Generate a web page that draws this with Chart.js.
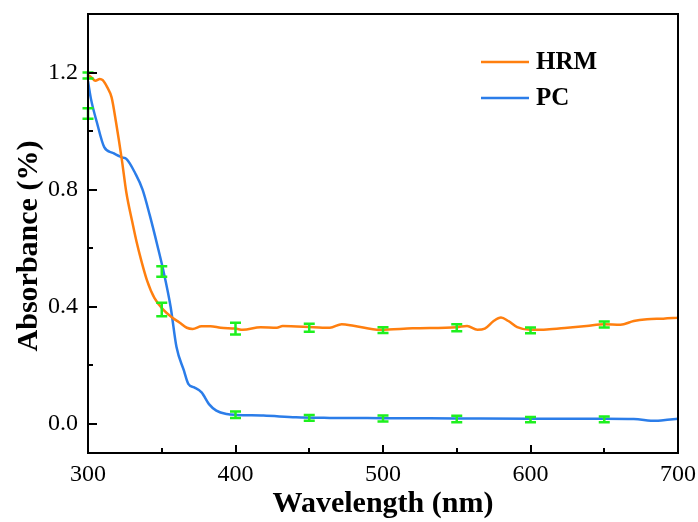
<!DOCTYPE html>
<html>
<head>
<meta charset="utf-8">
<script src="https://cdn.jsdelivr.net/npm/chart.js@4/dist/chart.umd.min.js"></script>
<style>
  html, body { margin: 0; padding: 0; background: #fff; }
  #wrap { width: 698px; height: 522px; }
</style>
</head>
<body>
<div id="wrap"><canvas id="absChart"></canvas></div>
<script>
// HRM spectrum
const hrmWl  = [300, 302, 305, 308, 310, 313, 316, 319, 323, 326, 330, 333, 336, 340, 345, 351, 357, 362, 367, 371, 377, 383, 390, 400, 405, 417, 428, 432, 453, 464, 472, 480, 498, 520, 550, 557, 564, 569, 575, 580, 585, 591, 600, 611, 625, 638, 650, 661, 670, 679, 690, 700];
const hrmAbs = [1.19, 1.185, 1.172, 1.178, 1.174, 1.15, 1.115, 1.03, 0.90, 0.79, 0.69, 0.62, 0.56, 0.49, 0.43, 0.39, 0.363, 0.346, 0.328, 0.324, 0.333, 0.333, 0.328, 0.325, 0.321, 0.33, 0.328, 0.334, 0.33, 0.328, 0.34, 0.335, 0.321, 0.326, 0.33, 0.334, 0.321, 0.325, 0.351, 0.363, 0.351, 0.33, 0.321, 0.322, 0.328, 0.334, 0.34, 0.338, 0.351, 0.357, 0.359, 0.362];

// PC spectrum
const pcWl  = [300, 302, 306, 311, 317, 323, 326, 332, 337, 342, 347, 351, 356, 360, 365, 368, 372, 377, 382, 387, 394, 401, 419, 441, 464, 500, 550, 600, 650, 670, 685, 690, 700];
const pcAbs = [1.17, 1.11, 1.03, 0.945, 0.925, 0.91, 0.905, 0.856, 0.80, 0.71, 0.61, 0.525, 0.40, 0.262, 0.182, 0.136, 0.124, 0.107, 0.067, 0.045, 0.033, 0.03, 0.028, 0.022, 0.02, 0.019, 0.018, 0.017, 0.017, 0.016, 0.01, 0.012, 0.017];

// error bars (mean ± sd)
const errWl     = [300, 350, 400, 450, 500, 550, 600, 650];
const hrmErrMean = [1.19, 0.39, 0.325, 0.328, 0.32, 0.328, 0.319, 0.339];
const hrmErrSd   = [0.01, 0.023, 0.02, 0.014, 0.01, 0.012, 0.01, 0.01];
const pcErrMean  = [1.06, 0.52, 0.031, 0.02, 0.018, 0.016, 0.014, 0.015];
const pcErrSd    = [0.018, 0.018, 0.011, 0.01, 0.01, 0.011, 0.009, 0.01];

// axis ticks
const xTicks = [300, 350, 400, 450, 500, 550, 600, 650, 700];
const yTicks = [0, 0.2, 0.4, 0.6, 0.8, 1.0, 1.2];

const seriesNames = ['HRM', 'PC'];
const seriesColors = ['#ff7f0f', '#2b7de9'];
const errColor = '#1ef01e';

const toPoints = (xs, ys) => xs.map((x, i) => ({ x: x, y: ys[i] }));

// 枠・内向き目盛・エラーバー・凡例・軸タイトル
const decorPlugin = {
    id: 'decor',
    afterDatasetsDraw(chart) {
        const ctx = chart.ctx;
        const xs = chart.scales.x, ys = chart.scales.y;
        const a = chart.chartArea;

        // error bars
        ctx.save();
        ctx.strokeStyle = errColor;
        ctx.lineWidth = 2.5;
        const drawErr = (means, sds) => {
            errWl.forEach((w, i) => {
                const px = xs.getPixelForValue(w);
                const y1 = ys.getPixelForValue(means[i] + sds[i]);
                const y2 = ys.getPixelForValue(means[i] - sds[i]);
                ctx.beginPath();
                ctx.moveTo(px, y1); ctx.lineTo(px, y2);
                ctx.moveTo(px - 5.5, y1); ctx.lineTo(px + 5.5, y1);
                ctx.moveTo(px - 5.5, y2); ctx.lineTo(px + 5.5, y2);
                ctx.stroke();
            });
        };
        drawErr(hrmErrMean, hrmErrSd);
        drawErr(pcErrMean, pcErrSd);
        ctx.restore();

        // frame + inward ticks
        ctx.save();
        ctx.strokeStyle = '#000';
        ctx.lineWidth = 2;
        ctx.strokeRect(a.left, a.top, a.right - a.left, a.bottom - a.top);
        ctx.beginPath();
        xTicks.forEach(v => {
            const px = Math.round(xs.getPixelForValue(v));
            const len = (v % 100 === 0) ? 8 : 5;
            ctx.moveTo(px, a.bottom); ctx.lineTo(px, a.bottom - len);
        });
        yTicks.forEach(v => {
            const py = Math.round(ys.getPixelForValue(v));
            const major = Math.abs(v / 0.4 - Math.round(v / 0.4)) < 1e-6;
            ctx.moveTo(a.left, py); ctx.lineTo(a.left + (major ? 9 : 5), py);
        });
        ctx.stroke();
        ctx.restore();

        // legend
        ctx.save();
        ctx.font = 'bold 25px "Liberation Serif"';
        ctx.textBaseline = 'middle';
        ctx.lineWidth = 2.5;
        [62, 98].forEach((ly, i) => {
            ctx.strokeStyle = seriesColors[i];
            ctx.beginPath();
            ctx.moveTo(481, ly); ctx.lineTo(529, ly);
            ctx.stroke();
            ctx.fillStyle = '#000';
            ctx.fillText(seriesNames[i], 536, ly + 1);
        });
        ctx.restore();

        // axis titles
        ctx.save();
        ctx.fillStyle = '#000';
        ctx.font = 'bold 30px "Liberation Serif"';
        ctx.textAlign = 'center';
        ctx.textBaseline = 'middle';
        ctx.fillText('Wavelength (nm)', (a.left + a.right) / 2, 504);
        ctx.translate(29, 246);
        ctx.rotate(-Math.PI / 2);
        ctx.fillText('Absorbance (%)', 0, 0);
        ctx.restore();
    }
};

const ctx = document.getElementById('absChart').getContext('2d');
const absChart = new Chart(ctx, {
    type: 'line',
    data: {
        datasets: [{
            label: seriesNames[0],
            data: toPoints(hrmWl, hrmAbs),
            borderColor: seriesColors[0],
            borderWidth: 2.5,
            pointRadius: 0,
            cubicInterpolationMode: 'monotone'
        }, {
            label: seriesNames[1],
            data: toPoints(pcWl, pcAbs),
            borderColor: seriesColors[1],
            borderWidth: 2.5,
            pointRadius: 0,
            cubicInterpolationMode: 'monotone'
        }]
    },
    options: {
        responsive: true,
        maintainAspectRatio: false,
        animation: false,
        layout: { padding: { top: 14, right: 20, left: 0, bottom: 0 } },
        plugins: {
            legend: { display: false },
            tooltip: { enabled: false }
        },
        scales: {
            x: {
                type: 'linear',
                min: 300,
                max: 700,
                afterBuildTicks: s => { s.ticks = xTicks.map(v => ({ value: v })); },
                afterFit: s => { s.height = 69; s.paddingLeft = 0; s.paddingRight = 0; },
                grid: { display: false, drawTicks: false },
                border: { display: false },
                ticks: {
                    padding: 7,
                    color: '#000',
                    maxRotation: 0,
                    autoSkip: false,
                    font: { family: 'Liberation Serif', size: 24 },
                    callback: v => (v % 100 === 0 ? String(v) : '')
                }
            },
            y: {
                min: -0.1,
                max: 1.4,
                afterBuildTicks: s => { s.ticks = yTicks.map(v => ({ value: v })); },
                afterFit: s => { s.width = 88; s.paddingTop = 0; s.paddingBottom = 0; },
                grid: { display: false, drawTicks: false },
                border: { display: false },
                ticks: {
                    padding: 10,
                    color: '#000',
                    autoSkip: false,
                    font: { family: 'Liberation Serif', size: 24 },
                    callback: v => (Math.abs(v / 0.4 - Math.round(v / 0.4)) < 1e-6 ? v.toFixed(1) : '')
                }
            }
        }
    },
    plugins: [decorPlugin]
});
</script>
</body>
</html>
